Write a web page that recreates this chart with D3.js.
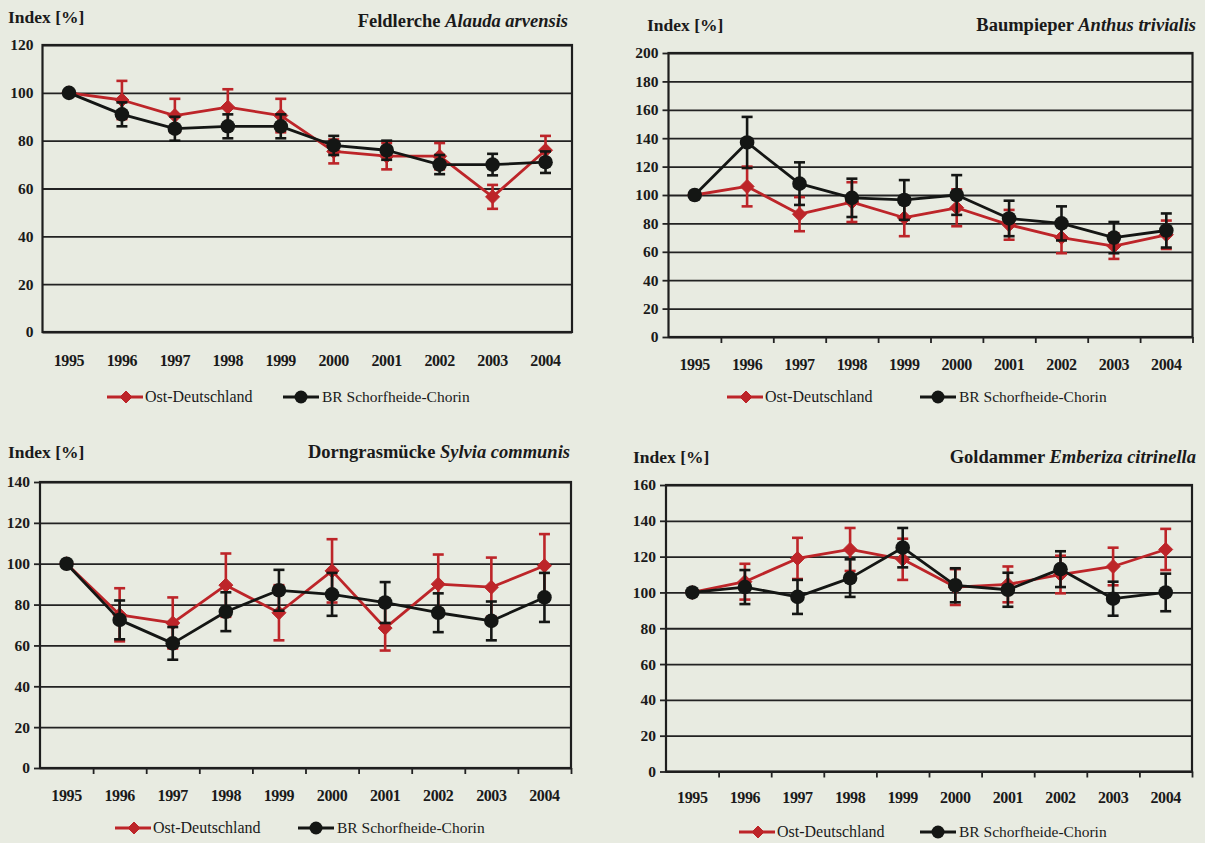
<!DOCTYPE html>
<html><head><meta charset="utf-8">
<script src="https://cdn.jsdelivr.net/npm/d3@7"></script>
<style>
html,body{margin:0;padding:0;background:#e8ebe1;}
svg{display:block;}
</style></head>
<body>
<svg id="chart" width="1205" height="843"></svg>
<script>
// ---------- data ----------
const years = [1995,1996,1997,1998,1999,2000,2001,2002,2003,2004];
const seriesNames = ["Ost-Deutschland","BR Schorfheide-Chorin"];
const yLabel = "Index [%]";

// Feldlerche Alauda arvensis
const feldOst    = [100, 97, 90.5, 94, 90.5, 75.5, 73.5, 73.5, 56.5, 76];
const feldOstErr = [0, 8, 7, 7.5, 7, 5, 5.5, 5.5, 5, 6];
const feldBR     = [100, 91, 85, 86, 86, 78, 76, 70, 70, 71];
const feldBRErr  = [0, 5, 5, 5, 5, 4, 4, 4, 4.5, 4.5];
const feldTicks  = [0,20,40,60,80,100,120];

// Baumpieper Anthus trivialis
const baumOst    = [100, 106, 86.5, 95, 84, 91, 79, 70, 64, 72];
const baumOstErr = [0, 14, 12, 14, 13, 13, 10.5, 11, 9, 10];
const baumBR     = [100, 137, 108, 98, 96.5, 100, 83.5, 80, 70, 75];
const baumBRErr  = [0, 18, 15, 13.5, 14, 14, 12.5, 12, 11, 12];
const baumTicks  = [0,20,40,60,80,100,120,140,160,180,200];

// Dorngrasmücke Sylvia communis
const dornOst    = [100, 75, 71, 89.5, 76, 96.5, 68.5, 90, 88.5, 99];
const dornOstErr = [0, 13, 12.5, 15.5, 13.5, 15.5, 11, 14.5, 14.5, 15.5];
const dornBR     = [100, 72.5, 61, 76.5, 87, 85, 81, 76, 72, 83.5];
const dornBRErr  = [0, 9.5, 8, 9.5, 10, 10.5, 10, 9.5, 9.5, 12];
const dornTicks  = [0,20,40,60,80,100,120,140];

// Goldammer Emberiza citrinella
const goldOst    = [100, 106, 119, 124, 118.5, 103, 104.5, 110, 114.5, 124];
const goldOstErr = [0, 10, 11.5, 12, 11.5, 10, 10, 10.5, 10.5, 11.5];
const goldBR     = [100, 103, 97.5, 108, 125, 104, 101.5, 113, 96.5, 100];
const goldBRErr  = [0, 9.5, 9.5, 10.5, 11, 9.5, 9.5, 10, 9.5, 10.5];
const goldTicks  = [0,20,40,60,80,100,120,140,160];

const speciesCommon = ["Feldlerche","Baumpieper","Dorngrasmücke","Goldammer"];
const speciesLatin  = ["Alauda arvensis","Anthus trivialis","Sylvia communis","Emberiza citrinella"];

// ---------- layout ----------
const RED = "#bd2529", BLACK = "#141614";
const FONT = '"Liberation Serif", "Times New Roman", serif';
const svg = d3.select("#chart");

const panels = [
  {ost:feldOst, ostErr:feldOstErr, br:feldBR, brErr:feldBRErr, ticks:feldTicks, name:0,
   L:42.5, R:572, T:45, B:332, idx:[8,23], titleX:568, titleY:27, yearY:367, legY:397,
   leg:[107,283], xticks:false},
  {ost:baumOst, ostErr:baumOstErr, br:baumBR, brErr:baumBRErr, ticks:baumTicks, name:1,
   L:668.5, R:1192.5, T:53, B:337, idx:[647,31], titleX:1196, titleY:31, yearY:371, legY:397,
   leg:[727,920], xticks:true},
  {ost:dornOst, ostErr:dornOstErr, br:dornBR, brErr:dornBRErr, ticks:dornTicks, name:2,
   L:40, R:571, T:482, B:768, idx:[8,458], titleX:570, titleY:458, yearY:802, legY:828,
   leg:[115,298], xticks:true},
  {ost:goldOst, ostErr:goldOstErr, br:goldBR, brErr:goldBRErr, ticks:goldTicks, name:3,
   L:666, R:1192, T:485, B:771.5, idx:[633,463], titleX:1196, titleY:463, yearY:804, legY:832,
   leg:[739,920], xticks:true}
];

function diamond(g, x, y, s){
  g.append("path").attr("d", `M${x},${y-s}L${x+s},${y}L${x},${y+s}L${x-s},${y}Z`)
   .attr("fill", RED).attr("stroke", RED).attr("stroke-width",1);
}
function styleText(sel, size, weight){
  sel.style("font-family", FONT).style("font-size", size+"px").style("font-weight", weight||"normal")
     .style("fill", "#1a1a1a");
}

panels.forEach(p => {
  const g = svg.append("g");
  const ymax = d3.max(p.ticks);
  const y = d3.scaleLinear().domain([0, ymax]).range([p.B, p.T]);
  const xb = d3.scaleBand().domain(years).range([p.L, p.R]).padding(0);
  const x = d => xb(d) + xb.bandwidth()/2;

  // gridlines
  g.append("g").attr("transform", `translate(${p.L},0)`)
   .call(d3.axisLeft(y).tickValues(p.ticks).tickSize(-(p.R-p.L)).tickFormat(""))
   .call(a => a.select(".domain").remove())
   .call(a => a.selectAll("line").attr("stroke","#222").attr("stroke-width",1.8));

  // frame
  g.append("rect").attr("x",p.L).attr("y",p.T).attr("width",p.R-p.L).attr("height",p.B-p.T)
   .attr("fill","none").attr("stroke","#1e1e1e").attr("stroke-width",2.2);

  // y axis labels + ticks
  g.append("g").attr("transform", `translate(${p.L},0)`)
   .call(d3.axisLeft(y).tickValues(p.ticks).tickSize(p.xticks?6:0).tickPadding(p.xticks?4:9))
   .call(a => a.select(".domain").remove())
   .call(a => a.selectAll("line").attr("stroke","#222").attr("stroke-width",1.8))
   .call(a => styleText(a.selectAll("text"), 15.5, "bold"));

  // x tick marks at band edges
  if (p.xticks){
    const xe = d3.scaleLinear().domain([0, years.length]).range([p.L, p.R]);
    g.append("g").attr("transform", `translate(0,${p.B})`)
     .call(d3.axisBottom(xe).tickValues(d3.range(1, years.length+1)).tickSize(6).tickFormat(""))
     .call(a => a.select(".domain").remove())
     .call(a => a.selectAll("line").attr("stroke","#222").attr("stroke-width",1.8));
  }
  // year labels
  g.append("g").attr("transform", `translate(0,${p.yearY-12})`)
   .call(d3.axisBottom(xb).tickSize(0).tickPadding(0))
   .call(a => a.select(".domain").remove())
   .call(a => styleText(a.selectAll("text"), 16, "bold"))
   .call(a => a.selectAll("text").style("letter-spacing","-0.4px"));

  // titles
  const it = g.append("text").attr("x",p.idx[0]).attr("y",p.idx[1]).text(yLabel);
  styleText(it, 17.5, "bold");
  const t = g.append("text").attr("x",p.titleX).attr("y",p.titleY).attr("text-anchor","end");
  styleText(t, 18.5, "bold");
  t.append("tspan").text(speciesCommon[p.name] + " ");
  t.append("tspan").style("font-style","italic").text(speciesLatin[p.name]);

  const line = d3.line().x((d,i)=>x(years[i])).y(d=>y(d));

  function drawSeries(vals, errs, color, marker){
    const eg = g.append("g").attr("stroke",color).attr("stroke-width",2.6).attr("fill","none");
    vals.forEach((v,i) => {
      if (!errs[i]) return;
      const cx = x(years[i]);
      eg.append("line").attr("x1",cx).attr("x2",cx).attr("y1",y(v-errs[i])).attr("y2",y(v+errs[i]));
      eg.append("line").attr("x1",cx-5.5).attr("x2",cx+5.5).attr("y1",y(v+errs[i])).attr("y2",y(v+errs[i]));
      eg.append("line").attr("x1",cx-5.5).attr("x2",cx+5.5).attr("y1",y(v-errs[i])).attr("y2",y(v-errs[i]));
    });
    g.append("path").datum(vals).attr("d",line).attr("fill","none").attr("stroke",color)
     .attr("stroke-width",2.8).attr("stroke-linejoin","round");
    vals.forEach((v,i) => {
      if (marker==="diamond") diamond(g, x(years[i]), y(v), 7);
      else g.append("circle").attr("cx",x(years[i])).attr("cy",y(v)).attr("r",7.3).attr("fill",color);
    });
  }
  drawSeries(p.ost, p.ostErr, RED, "diamond");
  drawSeries(p.br, p.brErr, BLACK, "circle");

  // legend
  const lg = g.append("g");
  const l0 = p.leg[0], l1 = p.leg[1];
  lg.append("line").attr("x1",l0).attr("x2",l0+36).attr("y1",p.legY).attr("y2",p.legY)
    .attr("stroke",RED).attr("stroke-width",2.8);
  diamond(lg, l0+19, p.legY, 6);
  const lt0 = lg.append("text").attr("x",l0+38).attr("y",p.legY+5).text(seriesNames[0]);
  styleText(lt0, 16);
  lg.append("line").attr("x1",l1).attr("x2",l1+36).attr("y1",p.legY).attr("y2",p.legY)
    .attr("stroke",BLACK).attr("stroke-width",2.8);
  lg.append("circle").attr("cx",l1+18).attr("cy",p.legY).attr("r",6.5).attr("fill",BLACK);
  const lt1 = lg.append("text").attr("x",l1+39).attr("y",p.legY+5).text(seriesNames[1]);
  styleText(lt1, 15.5);
});
</script>
</body></html>
